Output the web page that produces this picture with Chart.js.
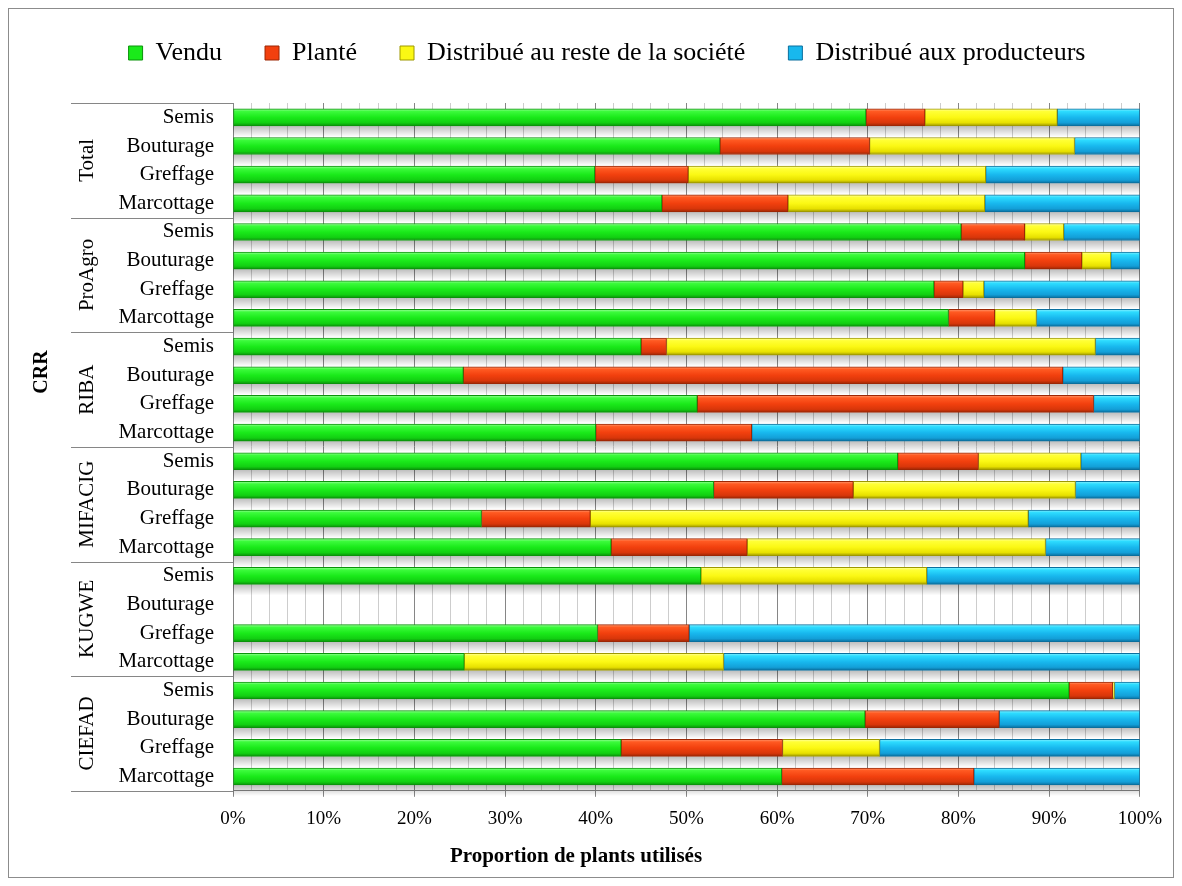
<!DOCTYPE html>
<html>
<head>
<meta charset="utf-8">
<script src="https://cdn.jsdelivr.net/npm/chart.js@4.4.1/dist/chart.umd.min.js"></script>
<style>
  html, body { margin: 0; padding: 0; background: #fff; }
  #frame { position: absolute; left: 8px; top: 8px; width: 1164px; height: 868px; border: 1px solid #8c8c8c; }
  canvas { display: block; }
</style>
</head>
<body>
<div id="frame"><canvas id="chart" width="1164" height="868"></canvas></div>
<script>
'use strict';

// CRR groups (outer axis level) and techniques (inner level)
const groups = ['Total', 'ProAgro', 'RIBA', 'MIFACIG', 'KUGWE', 'CIEFAD'];
const techniques = ['Semis', 'Bouturage', 'Greffage', 'Marcottage'];

// % of plants, rows top to bottom (group by group, technique by technique)
const vendu = [69.8, 53.7, 39.9, 47.3, 80.3, 87.3, 77.3, 78.9, 45.0, 25.4, 51.2, 40.0,
  73.3, 53.0, 27.4, 41.7, 51.6, null, 40.2, 25.5, 92.2, 69.7, 42.8, 60.5];
const plante = [6.5, 16.5, 10.3, 13.9, 7.0, 6.3, 3.2, 5.1, 2.8, 66.1, 43.7, 17.2,
  8.9, 15.4, 12.0, 15.0, 0, null, 10.1, 0, 4.8, 14.8, 17.8, 21.2];
const resteSociete = [14.6, 22.6, 32.8, 21.7, 4.3, 3.2, 2.3, 4.6, 47.3, 0, 0, 0,
  11.3, 24.5, 48.3, 32.9, 24.9, null, 0, 28.6, 0.2, 0, 10.7, 0];
const producteurs = [9.1, 7.2, 17.0, 17.1, 8.4, 3.2, 17.2, 11.4, 4.9, 8.5, 5.1, 42.8,
  6.5, 7.1, 12.3, 10.4, 23.5, null, 49.7, 45.9, 2.8, 15.5, 28.7, 18.3];

const seriesLabels = ['Vendu', 'Planté', 'Distribué au reste de la société', 'Distribué aux producteurs'];
const xTickStep = 2;
const xLabelStep = 10;
const xTitle = 'Proportion de plants utilisés';
const yTitle = 'CRR';

const SERIF = '"Liberation Serif", "Times New Roman", serif';
const BAR = 17;

const palette = [
  { hi: '#9dff9d', light: '#3cfb3c', main: '#1aea1a', low: '#12cf12', dark: '#0a930a' },
  { hi: '#ff9a70', light: '#ff5a22', main: '#f2400e', low: '#d8360a', dark: '#9c2604' },
  { hi: '#ffffa8', light: '#ffff36', main: '#fbf814', low: '#e7e000', dark: '#9e9800' },
  { hi: '#8af0ff', light: '#2ddcff', main: '#18b8ee', low: '#139fd8', dark: '#0a6f9e' },
];

const rowLabels = groups.flatMap((g) => techniques.map((t) => g + ' / ' + t));
const seriesData = [vendu, plante, resteSociete, producteurs];

function barFill(i) {
  const p = palette[i];
  return (ctx) => {
    const chart = ctx.chart;
    if (!chart.chartArea || !chart.scales.y) return p.main;
    const yc = chart.scales.y.getPixelForValue(ctx.dataIndex);
    const g = chart.ctx.createLinearGradient(0, yc - BAR / 2, 0, yc + BAR / 2);
    g.addColorStop(0, p.hi);
    g.addColorStop(0.15, p.light);
    g.addColorStop(0.5, p.main);
    g.addColorStop(0.82, p.low);
    g.addColorStop(1, p.dark);
    return g;
  };
}

const datasets = seriesData.map((data, i) => ({
  label: seriesLabels[i],
  data,
  backgroundColor: barFill(i),
  borderColor: palette[i].dark,
  borderWidth: 1,
  borderSkipped: false,
  barThickness: BAR,
}));

// grey fading band under each bar (reads the bar elements' own extents)
const barShadow = {
  id: 'barShadow',
  beforeDatasetsDraw(chart) {
    const { ctx, chartArea, scales: { y } } = chart;
    const metas = chart.getSortedVisibleDatasetMetas();
    ctx.save();
    rowLabels.forEach((_, i) => {
      let right = null;
      metas.forEach((m) => {
        const v = chart.data.datasets[m.index].data[i];
        const el = m.data[i];
        if (v == null || !el || !isFinite(el.x)) return;
        right = Math.max(right == null ? -Infinity : right, el.x, el.base);
      });
      if (right == null) return;
      const yb = y.getPixelForValue(i) + BAR / 2;
      const g = ctx.createLinearGradient(0, yb, 0, yb + 11);
      g.addColorStop(0, 'rgba(0,0,0,0.26)');
      g.addColorStop(1, 'rgba(0,0,0,0)');
      ctx.fillStyle = g;
      ctx.fillRect(chartArea.left, yb, right - chartArea.left, 11);
    });
    ctx.restore();
  },
};

// move the legend up / right after layout (its padding also sets item gaps)
const legendShift = {
  id: 'legendShift',
  afterLayout(chart) {
    const l = chart.legend;
    if (!l) return;
    l.top -= 27; l.bottom -= 27;
    l.left += 31; l.right += 31;
  },
};

// outer category level: group names, separators, and axis title
const groupAxis = {
  id: 'groupAxis',
  afterDraw(chart) {
    const { ctx, chartArea, scales: { y } } = chart;
    const rowH = (chartArea.bottom - chartArea.top) / rowLabels.length;
    const x0 = 62;
    ctx.save();
    ctx.strokeStyle = '#868686';
    ctx.lineWidth = 1;
    ctx.fillStyle = '#000';
    ctx.font = '21px ' + SERIF;
    ctx.textAlign = 'center';
    ctx.textBaseline = 'middle';
    groups.forEach((g, gi) => {
      const n = techniques.length;
      const top = y.getPixelForValue(gi * n) - rowH / 2;
      const bottom = y.getPixelForValue(gi * n + n - 1) + rowH / 2;
      [top, bottom].forEach((yy) => {
        const py = Math.round(yy) + 0.5;
        ctx.beginPath();
        ctx.moveTo(x0, py);
        ctx.lineTo(chartArea.left, py);
        ctx.stroke();
      });
      ctx.save();
      ctx.translate(78, (top + bottom) / 2);
      ctx.rotate(-Math.PI / 2);
      ctx.fillText(g, 0, 0);
      ctx.restore();
    });
    ctx.font = 'bold 20px ' + SERIF;
    ctx.translate(33, 363);
    ctx.rotate(-Math.PI / 2);
    ctx.fillText(yTitle, 0, 0);
    ctx.restore();
  },
};

new Chart(document.getElementById('chart'), {
  type: 'bar',
  data: { labels: rowLabels, datasets },
  plugins: [barShadow, legendShift, groupAxis],
  options: {
    indexAxis: 'y',
    responsive: false,
    animation: false,
    layout: { padding: { top: 15, right: 30, bottom: 0, left: 0 } },
    plugins: {
      tooltip: { enabled: false },
      legend: {
        position: 'top',
        labels: {
          font: { family: SERIF, size: 26 },
          color: '#000',
          boxWidth: 14,
          boxHeight: 14,
          padding: 43,
          generateLabels: (chart) => chart.data.datasets.map((ds, i) => ({
            text: ds.label,
            fillStyle: palette[i].main,
            strokeStyle: palette[i].dark,
            lineWidth: 1,
            hidden: false,
            datasetIndex: i,
            fontColor: '#000',
          })),
        },
      },
      title: {
        display: true,
        position: 'bottom',
        text: xTitle,
        color: '#000',
        font: { family: SERIF, size: 21, weight: 'bold' },
        padding: { top: 0, bottom: 8 },
      },
    },
    scales: {
      x: {
        stacked: true,
        min: 0,
        max: 100,
        afterFit: (scale) => { scale.height = 53; },
        ticks: {
          stepSize: xTickStep,
          autoSkip: false,
          maxRotation: 0,
          padding: 11,
          color: '#000',
          font: { family: SERIF, size: 19 },
          callback: (v) => (v % xLabelStep === 0 ? v + '%' : ''),
        },
        grid: {
          color: (c) => (c.tick && c.tick.value % xLabelStep === 0 ? '#868686' : '#cdcdcd'),
          tickColor: (c) => (c.tick && c.tick.value % xLabelStep === 0 ? '#868686' : 'rgba(0,0,0,0)'),
          tickLength: 6,
        },
        border: { color: '#868686' },
      },
      y: {
        stacked: true,
        afterFit: (scale) => { scale.width = 224; },
        ticks: {
          padding: 19,
          color: '#000',
          font: { family: SERIF, size: 21 },
          callback: (v, i) => techniques[i % techniques.length],
        },
        grid: { display: false, drawTicks: false },
        border: { color: '#868686' },
      },
    },
  },
});
</script>
</body>
</html>
